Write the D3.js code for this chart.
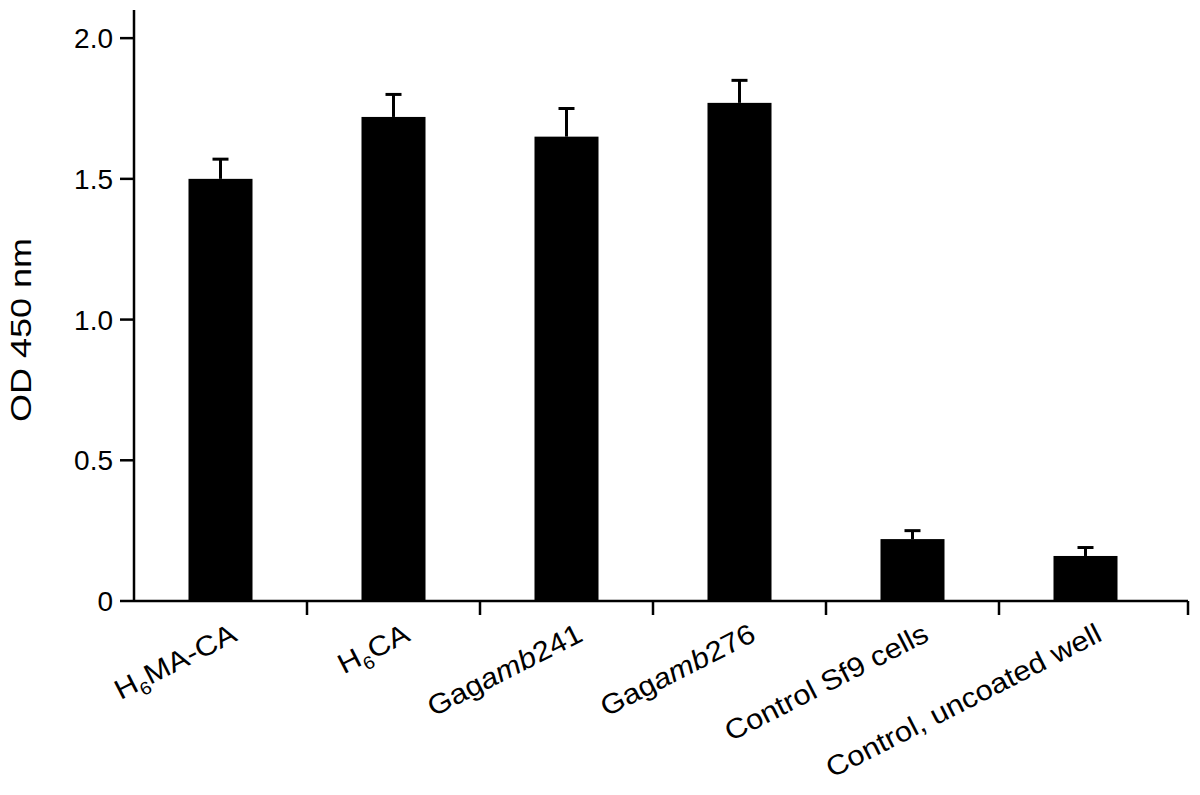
<!DOCTYPE html>
<html>
<head>
<meta charset="utf-8">
<script src="https://cdn.jsdelivr.net/npm/d3@7"></script>
<style>
    body { margin: 0; background: #fff; }
    svg text { font-family: "Liberation Sans", Arial, sans-serif; fill: #000; }
</style>
</head>
<body>
<svg id="chart" width="1200" height="795"></svg>
<script>
// data
var categories = ["H6MA-CA", "H6CA", "Gagamb241", "Gagamb276", "Control Sf9 cells", "Control, uncoated well"];
var labelParts = [
    [["H", ""], ["6", "sub"], ["MA-CA", ""]],
    [["H", ""], ["6", "sub"], ["CA", ""]],
    [["Gag", ""], ["amb", "it"], ["241", ""]],
    [["Gag", ""], ["amb", "it"], ["276", ""]],
    [["Control Sf9 cells", ""]],
    [["Control, uncoated well", ""]]
];
var values = [1.50, 1.72, 1.65, 1.77, 0.22, 0.16];
var errors = [0.07, 0.08, 0.10, 0.08, 0.03, 0.03];
var yTicks = [0, 0.5, 1.0, 1.5, 2.0];
var yTickLabels = ["0", "0.5", "1.0", "1.5", "2.0"];
var yTitle = "OD 450 nm";

(function () {
    var svg = d3.select("#chart");
    var left = 134, right = 1172, axisEnd = 1188;
    var base = 601, top = 10;
    var tickLen = 14;

    var x = d3.scaleBand()
        .domain(categories)
        .range([left, right])
        .padding(0);
    var y = d3.scaleLinear()
        .domain([0, 2.1])
        .range([base, top]);

    var barW = x.bandwidth() * 0.37;

    // bars
    svg.append("g")
        .selectAll("rect")
        .data(values)
        .enter().append("rect")
        .attr("x", function (d, i) { return x(categories[i]) + (x.bandwidth() - barW) / 2; })
        .attr("y", function (d) { return y(d); })
        .attr("width", barW)
        .attr("height", function (d) { return y(0) - y(d); })
        .attr("fill", "#000");

    // error bars (upper only)
    var err = svg.append("g")
        .attr("stroke", "#000")
        .attr("stroke-width", 3);
    values.forEach(function (v, i) {
        var cx = x(categories[i]) + x.bandwidth() / 2;
        err.append("line")
            .attr("x1", cx).attr("x2", cx)
            .attr("y1", y(v)).attr("y2", y(v + errors[i]));
        err.append("line")
            .attr("x1", cx - 8).attr("x2", cx + 8)
            .attr("y1", y(v + errors[i])).attr("y2", y(v + errors[i]));
    });

    // axes
    var axes = svg.append("g")
        .attr("stroke", "#000")
        .attr("stroke-width", 2.5)
        .attr("fill", "none");
    axes.append("line")
        .attr("x1", left).attr("x2", left)
        .attr("y1", y.range()[1]).attr("y2", y(0) + 1);
    axes.append("line")
        .attr("x1", left).attr("x2", axisEnd)
        .attr("y1", y(0)).attr("y2", y(0));

    yTicks.forEach(function (t) {
        axes.append("line")
            .attr("x1", left - tickLen).attr("x2", left)
            .attr("y1", y(t)).attr("y2", y(t));
    });

    // x ticks sit between the bands, the last one at the end of the axis
    var xTickPos = categories.slice(1).map(function (c) { return x(c); });
    xTickPos.push(axisEnd);
    xTickPos.forEach(function (px) {
        axes.append("line")
            .attr("x1", px).attr("x2", px)
            .attr("y1", y(0)).attr("y2", y(0) + tickLen);
    });

    // y tick labels
    svg.append("g")
        .selectAll("text")
        .data(yTicks)
        .enter().append("text")
        .attr("x", left - tickLen - 7)
        .attr("y", function (d) { return y(d); })
        .attr("dy", "0.36em")
        .attr("text-anchor", "end")
        .style("font-size", "28px")
        .text(function (d, i) { return yTickLabels[i]; });

    // y title
    svg.append("text")
        .attr("transform", "translate(31,330) rotate(-90) scale(1.2,1)")
        .attr("text-anchor", "middle")
        .style("font-size", "30px")
        .text(yTitle);

    // rotated category labels
    var labels = svg.append("g")
        .selectAll("text")
        .data(categories)
        .enter().append("text")
        .attr("transform", function (d) {
            var px = x(d) + x.bandwidth() / 2 + 18;
            return "translate(" + px + ",640) rotate(-27) scale(1.1,1)";
        })
        .attr("text-anchor", "end")
        .style("font-size", "28px");

    labels.each(function (d, i) {
        var t = d3.select(this);
        var shifted = false;
        labelParts[i].forEach(function (p) {
            var span = t.append("tspan").text(p[0]);
            if (p[1] === "sub") {
                span.style("font-size", "18px").attr("dy", 7);
                shifted = true;
            } else {
                if (shifted) { span.attr("dy", -7); shifted = false; }
                if (p[1] === "it") span.style("font-style", "italic");
            }
        });
    });
})();
</script>
</body>
</html>
